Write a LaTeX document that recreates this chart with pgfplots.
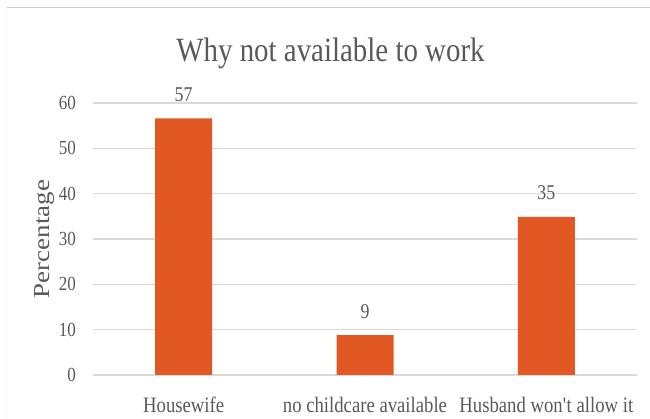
\documentclass[border=0pt]{standalone}
\usepackage{fontspec}
\setmainfont{Liberation Serif}[FakeStretch=0.85]
\newfontfamily\ylfont{Liberation Serif}
\usepackage{pgfplots}
\pgfplotsset{compat=1.18}
\usepackage{pgfplotstable}

\definecolor{barorange}{RGB}{226,88,36}
\definecolor{txtgray}{RGB}{89,89,89}
\definecolor{gridgray}{RGB}{217,217,217}

% reasons, percent (bar height) and the printed label
\pgfplotstableread{
x y lab
0 56.6 57
1 8.8 9
2 34.9 35
}\reasons

\begin{document}
\begin{tikzpicture}[x=1pt,y=1pt]
\path[use as bounding box] (0,0) rectangle (650,419);
% chart frame
\draw[color=gray!40, line width=1pt] (6,411.5) -- (650,411.5);
\draw[color=gray!8, line width=0.8pt] (6.5,411.5) -- (6.5,0);

\begin{axis}[
  at={(93pt,44pt)}, anchor=south west,
  scale only axis, width=544pt, height=272pt,
  xmin=-0.5, xmax=2.5, ymin=0, ymax=60,
  ytick={0,10,...,60},
  xtick=data,
  xticklabels={Housewife, no childcare available, Husband won\textquotesingle t allow it},
  ybar, bar width=57pt,
  axis line style={draw=none},
  major tick length=0pt,
  ymajorgrids,
  major grid style={gridgray, line width=1.2pt},
  /pgf/number format/assume math mode=true,
  yticklabel style={font=\fontsize{20}{20}\selectfont, text=txtgray,
    anchor=east, inner sep=0pt, xshift=-17pt},
  xticklabel style={font=\fontsize{22}{22}\selectfont, text=txtgray,
    anchor=base, inner sep=0pt, yshift=-38pt},
  nodes near coords={\pgfplotspointmeta},
  point meta=explicit symbolic,
  nodes near coords style={font=\fontsize{21}{21}\selectfont, text=txtgray,
    anchor=base, inner sep=0pt, yshift=17pt},
]
\addplot[fill=barorange, draw=none] table[x=x, y=y, meta=lab] {\reasons};
\end{axis}

\node[font=\fontsize{34}{34}\selectfont, text=txtgray, anchor=base]
  at (330.5,357.3) {Why not available to work};
\node[rotate=90, text=txtgray, inner sep=0pt] at (44,180)
  {\scalebox{1}[0.85]{\ylfont\fontsize{27}{27}\selectfont Percentage}};
\end{tikzpicture}
\end{document}
